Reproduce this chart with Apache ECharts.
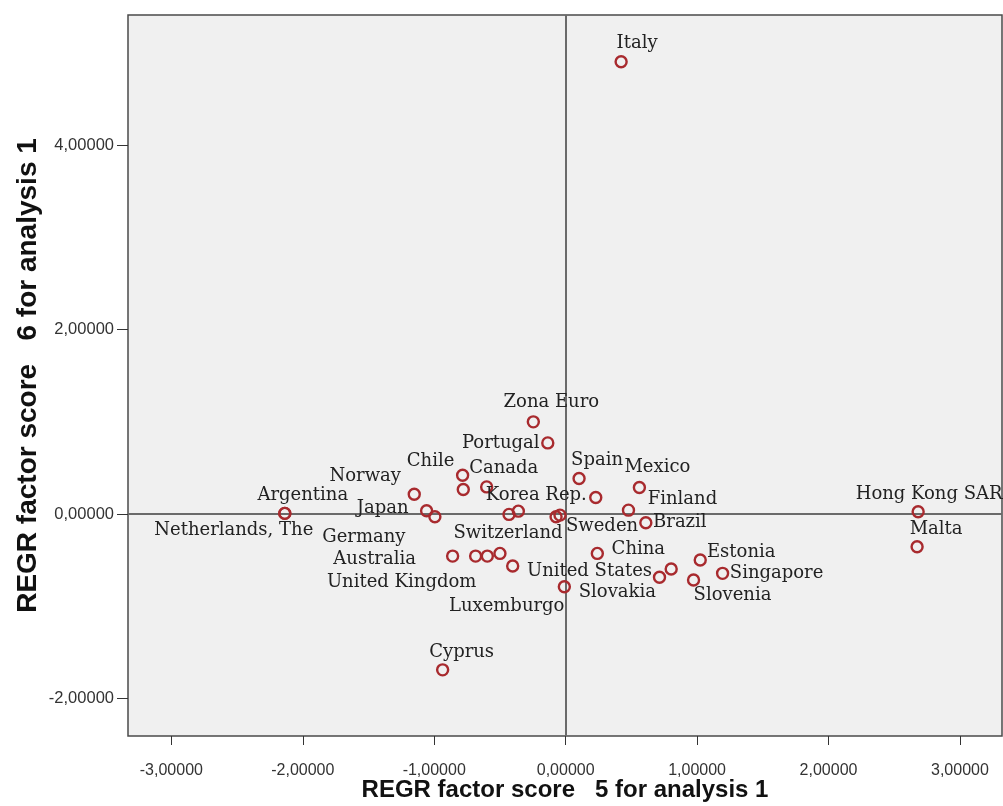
<!DOCTYPE html>
<html>
<head>
<meta charset="utf-8">
<script src="https://cdn.jsdelivr.net/npm/echarts@6/dist/echarts.min.js"></script>
<style>
  html, body { margin: 0; padding: 0; background: #ffffff; }
  #chart { width: 1003px; height: 806px; }
</style>
</head>
<body>
<div id="chart"></div>
<script>
// Factor scores per country (factor 5 on x, factor 6 on y)
const countries = [
  'Italy', 'Zona Euro', 'Portugal', 'Chile', '', 'Canada', 'Norway',
  'Argentina', 'Netherlands, The', 'Japan', 'Germany', 'Switzerland',
  'Korea Rep.', 'Sweden', '', 'Spain', '', 'Mexico', 'Finland', 'Brazil',
  'Australia', 'United Kingdom', '', '', 'Luxemburgo', 'China', '',
  'United States', 'Estonia', 'Slovenia', 'Singapore', 'Slovakia',
  'Hong Kong SAR', 'Malta', 'Cyprus'
];
const factor5 = [
  0.422, -0.246, -0.136, -0.784, -0.779, -0.601, -1.152,
  -2.137, -2.137, -1.058, -0.995, -0.431,
  -0.360, -0.073, -0.043, 0.102, 0.229, 0.561, 0.478, 0.610,
  -0.860, -0.685, -0.596, -0.500, -0.403, 0.241, 0.803,
  0.714, 1.024, 0.973, 1.194, -0.010,
  2.682, 2.674, -0.936
];
const factor6 = [
  4.903, 1.000, 0.772, 0.422, 0.267, 0.295, 0.216,
  0.008, 0.008, 0.036, -0.029, -0.003,
  0.032, -0.029, -0.011, 0.386, 0.180, 0.289, 0.043, -0.094,
  -0.455, -0.455, -0.455, -0.426, -0.563, -0.426, -0.595,
  -0.685, -0.498, -0.714, -0.642, -0.787,
  0.025, -0.354, -1.688
];
const xTicks = [-3, -2, -1, 0, 1, 2, 3];
const yTicks = [-2, 0, 2, 4];

// Where each point's label text sits, relative to the marker centre (px)
const labelOffsets = [
  [16, -18], [18, -20], [-47, 0], [-32, -14], [0, 0], [17, -19], [-49, -18],
  [18, -18], [-51, 17], [-44, -2], [-71, 21], [-1, 19],
  [18, -16], [46, 10], [0, 0], [18, -18], [0, 0], [18, -20], [54, -11], [34, 0],
  [-78, 3], [-74, 26], [0, 0], [0, 0], [-6, 40], [41, -4], [0, 0],
  [-70, -6], [41, -8], [39, 15], [54, 0], [53, 6],
  [11, -17], [19, -17], [19, -18]
];

const fmt = v => v.toFixed(5).replace('.', ',');

const points = countries.map((name, i) => ({
  name: name,
  value: [factor5[i], factor6[i]],
  label: { offset: labelOffsets[i] }
}));

const titleFont = 'Liberation Sans, Arial, sans-serif';

const chart = echarts.init(document.getElementById('chart'), null, { renderer: 'canvas' });
chart.setOption({
  backgroundColor: '#ffffff',
  animation: false,
  grid: {
    left: 128, top: 15, width: 874, height: 721,
    containLabel: false, outerBoundsMode: 'none',
    show: true, backgroundColor: '#f0f0f0',
    borderColor: '#4a4a4a', borderWidth: 1.5
  },
  xAxis: {
    type: 'value', min: -3.33, max: 3.32,
    name: 'REGR factor score   5 for analysis 1',
    nameLocation: 'middle', nameGap: 42, nameMoveOverlap: false,
    nameTextStyle: { fontFamily: titleFont, fontWeight: 'bold', fontSize: 24, color: '#111' },
    axisLine: { show: false, onZero: false },
    splitLine: { show: false },
    axisTick: { show: true, inside: false, length: 9, customValues: xTicks, lineStyle: { color: '#333', width: 1 } },
    axisLabel: { customValues: xTicks, formatter: fmt, margin: 27, fontFamily: titleFont, fontSize: 16, color: '#333' }
  },
  yAxis: {
    type: 'value', min: -2.405, max: 5.41,
    name: 'REGR factor score   6 for analysis 1',
    nameLocation: 'middle', nameGap: 86, nameMoveOverlap: false,
    nameTextStyle: { fontFamily: titleFont, fontWeight: 'bold', fontSize: 28, color: '#111' },
    axisLine: { show: false, onZero: false },
    splitLine: { show: false },
    axisTick: { show: true, inside: false, length: 11, customValues: yTicks, lineStyle: { color: '#333', width: 1 } },
    axisLabel: { customValues: yTicks, formatter: fmt, margin: 14, fontFamily: titleFont, fontSize: 16.5, color: '#333' }
  },
  series: [{
    type: 'scatter',
    symbol: 'circle',
    symbolSize: 11,
    itemStyle: { color: 'rgba(0,0,0,0)', borderColor: '#a82a2e', borderWidth: 2.4, opacity: 1 },
    label: {
      show: true, position: 'inside',
      formatter: p => p.name,
      fontFamily: 'DejaVu Serif, serif', fontSize: 18, color: '#222'
    },
    emphasis: { disabled: true },
    markLine: {
      silent: true, symbol: 'none', z: 1,
      label: { show: false },
      lineStyle: { type: 'solid', color: '#6a6a6a', width: 2 },
      data: [{ xAxis: 0 }, { yAxis: 0 }]
    },
    data: points,
    z: 3
  }]
});
</script>
</body>
</html>
